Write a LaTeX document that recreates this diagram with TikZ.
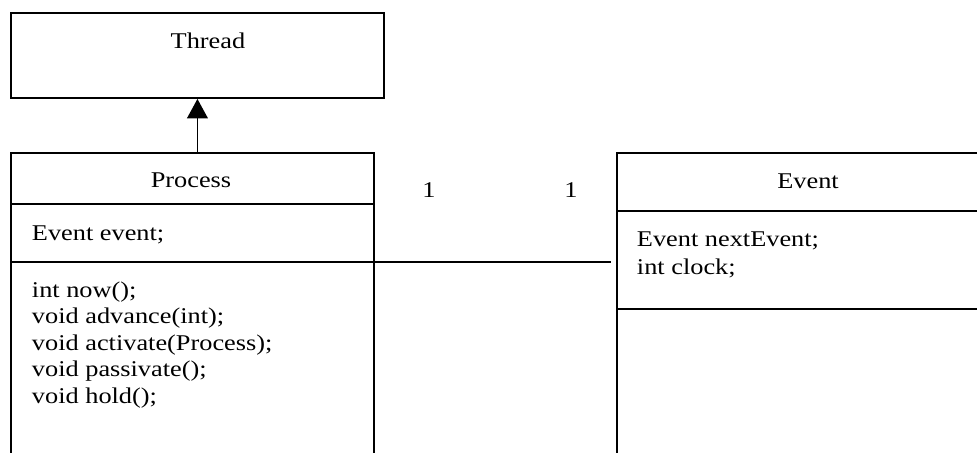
\documentclass[tikz,border=0pt]{standalone}
\usepackage{fontspec}
\setmainfont[FakeStretch=1.17]{Liberation Serif}
\usetikzlibrary{arrows.meta}

\tikzset{
  classbox/.style={draw, anchor=north west, inner sep=0pt},
  member/.style={anchor=base west, inner sep=0pt},
  classname/.style={anchor=base, inner sep=0pt},
}

\begin{document}
\begin{tikzpicture}[x=0.5pt, y=-0.5pt, line width=0.95pt,
    font=\fontsize{11.25}{13.3}\selectfont]
  \useasboundingbox (0,0) rectangle (977,452);
  \clip (0,0) rectangle (977,452);

  % class boxes
  \node[classbox, minimum width=186.5pt, minimum height=42.5pt] (thread) at (10,12) {};
  \node[classbox, minimum width=181.5pt, minimum height=164pt] (process) at (10,152) {};
  \node[classbox, minimum width=195pt, minimum height=164pt] (event) at (616,152) {};

  % compartments
  \draw (process.west |- 0,204) -- (process.east |- 0,204);
  \draw (process.west |- 0,262) -- (process.east |- 0,262);
  \draw (event.west |- 0,211) -- (event.east |- 0,211);
  \draw (event.west |- 0,309) -- (event.east |- 0,309);

  % names
  \node[classname] (threadname) at (208,48) {Thread};
  \node[classname] (processname) at (191,187) {Process};
  \node[classname] (eventname) at (808,188) {Event};

  % members
  \node[member] (procattr) at (31,240) {Event event;};
  \foreach \meth [count=\i from 0] in {{int now();}, {void advance(int);},
      {void activate(Process);}, {void passivate();}, {void hold();}}
    \node[member] (meth\i) at (31,297+26.6*\i) {\meth};
  \node[member] (eventattr1) at (636,246) {Event nextEvent;};
  \node[member] (eventattr2) at (636,274) {int clock;};

  % inheritance
  \draw[-{Triangle[length=9.7pt, width=10.3pt]}] (process.north -| thread.south) -- (thread.south);

  % association
  \coordinate (assocend) at (611,262);
  \draw (process.east |- assocend) -- (assocend);
  \node[classname] (mult1) at (429,197) {1};
  \node[classname] (mult2) at (571,197) {1};
\end{tikzpicture}
\end{document}
